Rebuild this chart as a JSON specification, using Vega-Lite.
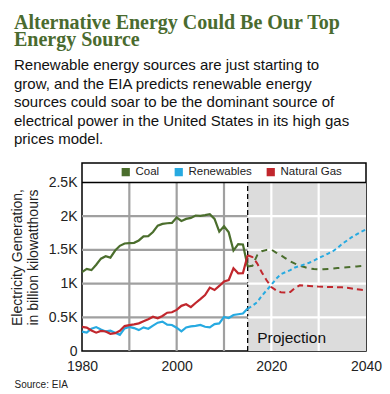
{
  "$schema": "https://vega.github.io/schema/vega-lite/v6.json",
  "width": 284,
  "height": 188,
  "autosize": {"type": "none"},
  "padding": {"left": 82, "top": 163, "right": 24, "bottom": 43},
  "background": "#ffffff",
  "config": {
    "view": {"stroke": "#000000", "strokeWidth": 1.5},
    "font": "Liberation Sans"
  },
  "title": {
    "text": ["Alternative Energy Could Be Our Top", "Energy Source"],
    "subtitle": ["Renewable energy sources are just starting to", "grow, and the EIA predicts renewable energy", "sources could soar to be the dominant source of", "electrical power in the United States in its high gas", "prices model."],
    "anchor": "start",
    "frame": "group",
    "dx": -68,
    "offset": 16,
    "font": "Liberation Serif",
    "fontSize": 20,
    "fontWeight": "bold",
    "color": "#4a6b2f",
    "lineHeight": 17,
    "subtitleFont": "Liberation Sans",
    "subtitleFontSize": 15,
    "subtitleColor": "#111111",
    "subtitleLineHeight": 18.5,
    "subtitlePadding": 8
  },
  "encoding": {
    "x": {
      "field": "year", "type": "quantitative",
      "scale": {"domain": [1980, 2040], "nice": false, "zero": false},
      "axis": {
        "values": [1980, 2000, 2020, 2040], "format": "d", "grid": false, "domain": false, "ticks": false,
        "labelPadding": 8, "labelFontSize": 14, "labelColor": "#222222", "labelFlush": false,
        "title": "Source: EIA", "titleX": -68, "titleY": 36, "titleAlign": "left", "titleBaseline": "alphabetic",
        "titleFontSize": 10, "titleFontWeight": "normal", "titleColor": "#222222"
      }
    },
    "y": {
      "field": "value", "type": "quantitative",
      "scale": {"domain": [0, 2789], "nice": false, "zero": true},
      "axis": {
        "values": [0, 500, 1000, 1500, 2000, 2500],
        "labelExpr": "datum.value == 0 ? '0' : (datum.value / 1000) + 'K'",
        "grid": false, "domain": false, "ticks": false,
        "labelPadding": 5, "labelFontSize": 14, "labelColor": "#222222",
        "title": ["Electricity Generation,", "in billion kilowatthours"],
        "titleFontSize": 14, "titleFontWeight": "normal", "titleColor": "#222222",
        "titlePadding": 8
      }
    }
  },
  "datasets": {
    "shade": [{"year": 2015, "year_end": 2040, "value": 0, "value_end": 2500}],
    "frame": [{"year": 1980, "year_end": 2040, "value": 2500}],
    "labels": [{"year": 2017, "value": 120, "text": "Projection"}],
    "historical": [
      {"year": 1990, "Grid": 0, "line": "v1990"}, {"year": 1990, "Grid": 2500, "line": "v1990"},
      {"year": 2000, "Grid": 0, "line": "v2000"}, {"year": 2000, "Grid": 2500, "line": "v2000"},
      {"year": 2010, "Grid": 0, "line": "v2010"}, {"year": 2010, "Grid": 2500, "line": "v2010"},
      {"year": 1980, "Grid": 500, "line": "h500"}, {"year": 2015, "Grid": 500, "line": "h500"},
      {"year": 1980, "Grid": 1000, "line": "h1000"}, {"year": 2015, "Grid": 1000, "line": "h1000"},
      {"year": 1980, "Grid": 1500, "line": "h1500"}, {"year": 2015, "Grid": 1500, "line": "h1500"},
      {"year": 1980, "Grid": 2000, "line": "h2000"}, {"year": 2015, "Grid": 2000, "line": "h2000"},
      {"year": 2020, "Grid Projection": 0, "line": "v2020"}, {"year": 2020, "Grid Projection": 2500, "line": "v2020"},
      {"year": 2030, "Grid Projection": 0, "line": "v2030"}, {"year": 2030, "Grid Projection": 2500, "line": "v2030"},
      {"year": 2015, "Grid Projection": 500, "line": "p500"}, {"year": 2040, "Grid Projection": 500, "line": "p500"},
      {"year": 2015, "Grid Projection": 1000, "line": "p1000"}, {"year": 2040, "Grid Projection": 1000, "line": "p1000"},
      {"year": 2015, "Grid Projection": 1500, "line": "p1500"}, {"year": 2040, "Grid Projection": 1500, "line": "p1500"},
      {"year": 2015, "Grid Projection": 2000, "line": "p2000"}, {"year": 2040, "Grid Projection": 2000, "line": "p2000"},
      {"year": 1980, "Coal": 1170, "Renewables": 287, "Natural Gas": 357},
      {"year": 1981, "Coal": 1218, "Renewables": 272, "Natural Gas": 348},
      {"year": 1982, "Coal": 1200, "Renewables": 330, "Natural Gas": 305},
      {"year": 1983, "Coal": 1280, "Renewables": 355, "Natural Gas": 272},
      {"year": 1984, "Coal": 1370, "Renewables": 320, "Natural Gas": 297},
      {"year": 1985, "Coal": 1405, "Renewables": 290, "Natural Gas": 290},
      {"year": 1986, "Coal": 1385, "Renewables": 302, "Natural Gas": 255},
      {"year": 1987, "Coal": 1490, "Renewables": 272, "Natural Gas": 265},
      {"year": 1988, "Coal": 1560, "Renewables": 240, "Natural Gas": 300},
      {"year": 1989, "Coal": 1595, "Renewables": 335, "Natural Gas": 370},
      {"year": 1990, "Coal": 1600, "Renewables": 358, "Natural Gas": 383},
      {"year": 1991, "Coal": 1605, "Renewables": 340, "Natural Gas": 395},
      {"year": 1992, "Coal": 1640, "Renewables": 310, "Natural Gas": 410},
      {"year": 1993, "Coal": 1700, "Renewables": 350, "Natural Gas": 440},
      {"year": 1994, "Coal": 1705, "Renewables": 331, "Natural Gas": 470},
      {"year": 1995, "Coal": 1765, "Renewables": 376, "Natural Gas": 509},
      {"year": 1996, "Coal": 1860, "Renewables": 420, "Natural Gas": 485},
      {"year": 1997, "Coal": 1885, "Renewables": 435, "Natural Gas": 520},
      {"year": 1998, "Coal": 1895, "Renewables": 390, "Natural Gas": 568},
      {"year": 1999, "Coal": 1900, "Renewables": 386, "Natural Gas": 575},
      {"year": 2000, "Coal": 1980, "Renewables": 345, "Natural Gas": 610},
      {"year": 2001, "Coal": 1930, "Renewables": 290, "Natural Gas": 670},
      {"year": 2002, "Coal": 1960, "Renewables": 350, "Natural Gas": 693},
      {"year": 2003, "Coal": 1975, "Renewables": 365, "Natural Gas": 650},
      {"year": 2004, "Coal": 2010, "Renewables": 372, "Natural Gas": 712},
      {"year": 2005, "Coal": 2005, "Renewables": 386, "Natural Gas": 770},
      {"year": 2006, "Coal": 2015, "Renewables": 360, "Natural Gas": 831},
      {"year": 2007, "Coal": 2030, "Renewables": 350, "Natural Gas": 940},
      {"year": 2008, "Coal": 1960, "Renewables": 400, "Natural Gas": 905},
      {"year": 2009, "Coal": 1770, "Renewables": 410, "Natural Gas": 965},
      {"year": 2010, "Coal": 1850, "Renewables": 505, "Natural Gas": 1030},
      {"year": 2011, "Coal": 1760, "Renewables": 490, "Natural Gas": 1053},
      {"year": 2012, "Coal": 1490, "Renewables": 534, "Natural Gas": 1227},
      {"year": 2013, "Coal": 1585, "Renewables": 545, "Natural Gas": 1153},
      {"year": 2014, "Coal": 1580, "Renewables": 555, "Natural Gas": 1155},
      {"year": 2015, "Coal": 1255, "Renewables": 630, "Natural Gas": 1420}
    ],
    "projection": [
      {"year": 2015, "Coal": 1255, "Renewables": 630, "Natural Gas": 1420},
      {"year": 2016, "Coal": 1265, "Renewables": 670, "Natural Gas": 1395},
      {"year": 2017, "Coal": 1420, "Renewables": 725, "Natural Gas": 1300},
      {"year": 2018, "Coal": 1480, "Renewables": 820, "Natural Gas": 1165},
      {"year": 2019, "Coal": 1500, "Renewables": 900, "Natural Gas": 1050},
      {"year": 2020, "Coal": 1505, "Renewables": 980, "Natural Gas": 950},
      {"year": 2021, "Coal": 1460, "Renewables": 1070, "Natural Gas": 900},
      {"year": 2022, "Coal": 1420, "Renewables": 1140, "Natural Gas": 872},
      {"year": 2023, "Coal": 1375, "Renewables": 1170, "Natural Gas": 868},
      {"year": 2024, "Coal": 1330, "Renewables": 1200, "Natural Gas": 875},
      {"year": 2025, "Coal": 1295, "Renewables": 1240, "Natural Gas": 935},
      {"year": 2026, "Coal": 1265, "Renewables": 1260, "Natural Gas": 975},
      {"year": 2027, "Coal": 1245, "Renewables": 1285, "Natural Gas": 970},
      {"year": 2028, "Coal": 1225, "Renewables": 1310, "Natural Gas": 965},
      {"year": 2029, "Coal": 1215, "Renewables": 1340, "Natural Gas": 960},
      {"year": 2030, "Coal": 1210, "Renewables": 1380, "Natural Gas": 955},
      {"year": 2031, "Coal": 1212, "Renewables": 1410, "Natural Gas": 952},
      {"year": 2032, "Coal": 1218, "Renewables": 1445, "Natural Gas": 950},
      {"year": 2033, "Coal": 1224, "Renewables": 1480, "Natural Gas": 948},
      {"year": 2034, "Coal": 1230, "Renewables": 1530, "Natural Gas": 946},
      {"year": 2035, "Coal": 1236, "Renewables": 1590, "Natural Gas": 944},
      {"year": 2036, "Coal": 1242, "Renewables": 1640, "Natural Gas": 938},
      {"year": 2037, "Coal": 1248, "Renewables": 1690, "Natural Gas": 928},
      {"year": 2038, "Coal": 1254, "Renewables": 1730, "Natural Gas": 915},
      {"year": 2039, "Coal": 1260, "Renewables": 1770, "Natural Gas": 908},
      {"year": 2040, "Coal": 1262, "Renewables": 1805, "Natural Gas": 902}
    ]
  },
  "layer": [
    {
      "data": {"name": "shade"},
      "mark": {"type": "rect", "fill": "#dcdcdc"},
      "encoding": {
        "x2": {"field": "year_end"},
        "y2": {"field": "value_end"}
      }
    },
    {
      "data": {"name": "shade"},
      "mark": {"type": "rule", "color": "#000000", "strokeWidth": 1.3, "strokeDash": [5, 3]},
      "encoding": {"y2": {"field": "value_end"}}
    },
    {
      "data": {"name": "historical"},
      "transform": [{"fold": ["Grid", "Grid Projection", "Coal", "Renewables", "Natural Gas"], "as": ["source", "value"]}],
      "mark": {"type": "line"},
      "encoding": {
        "detail": {"field": "line", "type": "nominal"},
        "strokeWidth": {
          "field": "source", "type": "nominal",
          "scale": {"domain": ["Coal", "Renewables", "Natural Gas", "Grid", "Grid Projection"], "range": [2.2, 2.2, 2.2, 1.2, 1.2]},
          "legend": null
        },
        "color": {
          "field": "source", "type": "nominal",
          "scale": {"domain": ["Coal", "Renewables", "Natural Gas", "Grid", "Grid Projection"], "range": ["#4b6e2d", "#27aae1", "#c1272d", "#a0a0a0", "#ffffff"]},
          "legend": {
            "values": ["Coal", "Renewables", "Natural Gas"],
            "orient": "none", "legendX": 38, "legendY": 3, "direction": "horizontal", "title": null,
            "symbolType": "square", "symbolSize": 36, "symbolStrokeWidth": 0,
            "labelFontSize": 11.5, "labelColor": "#222222", "labelOffset": 4, "columnPadding": 11, "padding": 0,
            "encode": {"symbols": {"update": {"fill": {"scale": "color", "field": "value"}, "fillOpacity": {"value": 1}}}}
          }
        }
      }
    },
    {
      "data": {"name": "projection"},
      "transform": [{"fold": ["Coal", "Renewables", "Natural Gas"], "as": ["source", "value"]}],
      "mark": {"type": "line", "strokeWidth": 2},
      "encoding": {
        "color": {"field": "source", "type": "nominal"},
        "strokeDash": {
          "field": "source", "type": "nominal",
          "scale": {"domain": ["Coal", "Renewables", "Natural Gas"], "range": [[6, 5], [4, 3], [6, 4]]},
          "legend": null
        }
      }
    },
    {
      "data": {"name": "frame"},
      "mark": {"type": "rule", "color": "#000000", "strokeWidth": 1.5},
      "encoding": {"x2": {"field": "year_end"}}
    },
    {
      "data": {"name": "labels"},
      "mark": {"type": "text", "align": "left", "baseline": "alphabetic", "fontSize": 15.5, "color": "#111111"},
      "encoding": {"text": {"field": "text"}}
    }
  ]
}
